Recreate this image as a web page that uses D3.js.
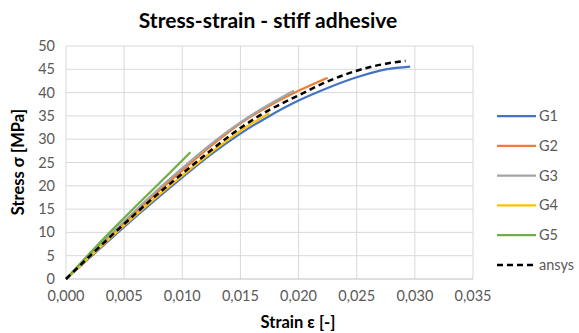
<!DOCTYPE html>
<html>
<head>
<meta charset="utf-8">
<script src="https://cdn.jsdelivr.net/npm/d3@7"></script>
<style>
  body { margin: 0; background: #fff; }
  text { font-family: Lato, "Open Sans", sans-serif; }
</style>
</head>
<body>
<svg id="chart" width="579" height="333"></svg>
<script>
// strain ticks and stress ticks
const xTicks = [0, 0.005, 0.010, 0.015, 0.020, 0.025, 0.030, 0.035];
const yTicks = [0, 5, 10, 15, 20, 25, 30, 35, 40, 45, 50];

// measured curves, [strain, stress]
const g1 = [[0, 0], [0.0025, 5.6], [0.005, 11.2], [0.0075, 16.6], [0.010, 21.8], [0.0125, 26.8], [0.015, 31.2],
  [0.0175, 35.0], [0.020, 38.3], [0.0225, 41.0], [0.025, 43.3], [0.0275, 45.0], [0.0296, 45.6]];
const g2 = [[0, 0], [0.0025, 6.1], [0.005, 12.0], [0.0075, 17.8], [0.010, 23.3], [0.0125, 28.6], [0.015, 33.4],
  [0.0175, 37.2], [0.020, 40.4], [0.0225, 43.2]];
const g3 = [[0, 0], [0.0025, 6.3], [0.005, 12.4], [0.0075, 18.3], [0.010, 23.8], [0.0125, 29.0], [0.015, 33.6],
  [0.0175, 37.5], [0.0196, 40.4]];
const g4 = [[0, 0], [0.0025, 5.8], [0.005, 11.5], [0.0075, 17.0], [0.010, 22.2], [0.0125, 27.2], [0.015, 31.8],
  [0.0175, 35.6]];
const g5 = [[0, 0], [0.002, 5.4], [0.004, 10.6], [0.006, 15.6], [0.008, 20.5], [0.0107, 27.2]];
const ansys = [[0, 0], [0.0025, 6.0], [0.005, 11.8], [0.0075, 17.4], [0.010, 22.6], [0.0125, 27.7], [0.015, 32.4],
  [0.0175, 36.3], [0.020, 39.4], [0.0225, 42.4], [0.025, 44.7], [0.0275, 46.2], [0.0292, 46.8]];

const series = [
  { name: 'G1', data: g1, color: '#4472c4' },
  { name: 'G2', data: g2, color: '#ed7d31' },
  { name: 'G3', data: g3, color: '#a5a5a5' },
  { name: 'G4', data: g4, color: '#ffc000' },
  { name: 'G5', data: g5, color: '#70ad47' },
  { name: 'ansys', data: ansys, color: '#000000', dash: '6,4' }
];

const svg = d3.select('#chart');
const plotLeft = 66, plotRight = 473, plotTop = 46, plotBottom = 279;

const x = d3.scaleLinear().domain([0, 0.035]).range([plotLeft, plotRight]);
const y = d3.scaleLinear().domain([0, 50]).range([plotBottom, plotTop]);
const fmt = (v) => v.toFixed(3).replace('.', ',');

// gridlines
svg.append('g')
  .selectAll('line')
  .data(xTicks.slice(1))
  .join('line')
  .attr('x1', (d) => x(d)).attr('x2', (d) => x(d))
  .attr('y1', plotTop).attr('y2', plotBottom)
  .attr('stroke', '#d9d9d9').attr('stroke-width', 1);

svg.append('g')
  .selectAll('line')
  .data(yTicks.slice(1))
  .join('line')
  .attr('x1', plotLeft).attr('x2', plotRight)
  .attr('y1', (d) => y(d)).attr('y2', (d) => y(d))
  .attr('stroke', '#d9d9d9').attr('stroke-width', 1);

// axis lines
svg.append('line')
  .attr('x1', plotLeft).attr('x2', plotLeft).attr('y1', plotTop).attr('y2', plotBottom)
  .attr('stroke', '#d9d9d9');
svg.append('line')
  .attr('x1', plotLeft).attr('x2', plotRight).attr('y1', plotBottom).attr('y2', plotBottom)
  .attr('stroke', '#bfbfbf');

// tick labels
svg.append('g')
  .selectAll('text')
  .data(yTicks)
  .join('text')
  .attr('x', plotLeft - 11)
  .attr('y', (d) => y(d) + 5)
  .attr('text-anchor', 'end')
  .attr('font-size', 14.5)
  .attr('fill', '#595959')
  .text((d) => d);

svg.append('g')
  .selectAll('text')
  .data(xTicks)
  .join('text')
  .attr('x', (d) => x(d))
  .attr('y', plotBottom + 22)
  .attr('text-anchor', 'middle')
  .attr('font-size', 14.5)
  .attr('fill', '#595959')
  .text(fmt);

// curves
const line = d3.line()
  .x((d) => x(d[0]))
  .y((d) => y(d[1]))
  .curve(d3.curveMonotoneX);

svg.append('g')
  .selectAll('path')
  .data(series)
  .join('path')
  .attr('d', (d) => line(d.data))
  .attr('fill', 'none')
  .attr('stroke', (d) => d.color)
  .attr('stroke-width', (d) => (d.dash ? 2.5 : 2.25))
  .attr('stroke-dasharray', (d) => d.dash || null);

// titles
svg.append('text')
  .attr('x', 268).attr('y', 28)
  .attr('text-anchor', 'middle')
  .attr('font-size', 21).attr('font-weight', 'bold')
  .attr('fill', '#000')
  .text('Stress-strain - stiff adhesive');

svg.append('text')
  .attr('x', 298).attr('y', 328)
  .attr('text-anchor', 'middle')
  .attr('font-size', 16.5).attr('font-weight', 'bold')
  .attr('fill', '#000')
  .text('Strain ε [-]');

svg.append('text')
  .attr('transform', 'translate(24,162) rotate(-90)')
  .attr('text-anchor', 'middle')
  .attr('font-size', 16.5).attr('font-weight', 'bold')
  .attr('fill', '#000')
  .text('Stress σ [MPa]');

// legend
const legend = svg.append('g')
  .selectAll('g')
  .data(series)
  .join('g')
  .attr('transform', (d, i) => `translate(497,${116 + i * 29.8})`);

legend.append('line')
  .attr('x1', 0).attr('x2', 39)
  .attr('stroke', (d) => d.color)
  .attr('stroke-width', (d) => (d.dash ? 2.5 : 2.25))
  .attr('stroke-dasharray', (d) => d.dash || null);

legend.append('text')
  .attr('x', 42).attr('y', 5)
  .attr('font-size', 14.5)
  .attr('fill', '#595959')
  .text((d) => d.name);
</script>
</body>
</html>
